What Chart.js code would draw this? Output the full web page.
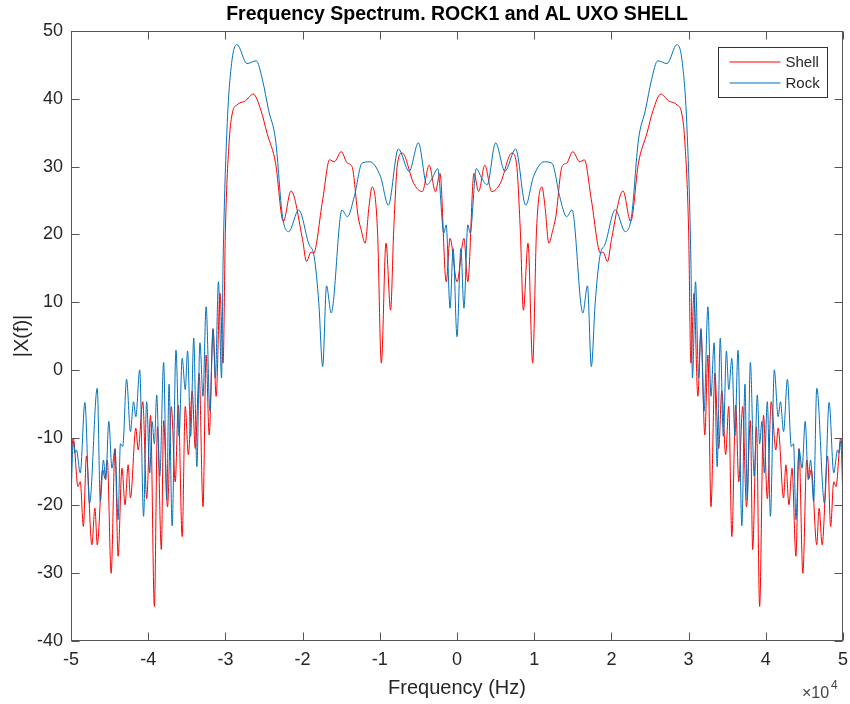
<!DOCTYPE html>
<html>
<head>
<meta charset="utf-8">
<script src="https://cdn.jsdelivr.net/npm/chart.js@4.4.1/dist/chart.umd.min.js"></script>
<style>
  body { margin: 0; background: #fff; }
</style>
</head>
<body>
<canvas id="spectrum" width="850" height="704"></canvas>
<script>
const rockFreq = [0, 0.05, 0.09, 0.14, 0.17, 0.25, 0.32, 0.39, 0.50, 0.62, 0.76, 0.89, 0.99, 1.13, 1.23, 1.33, 1.42, 1.49,
  1.63, 1.69, 1.74, 1.79, 1.85, 1.92, 2.05, 2.18, 2.26, 2.35, 2.44, 2.52, 2.60, 2.72, 2.85, 2.92, 2.98, 3.03,
  3.05, 3.09, 3.13, 3.16, 3.20, 3.25, 3.29, 3.33, 3.37, 3.41, 3.45, 3.49, 3.52, 3.56, 3.60, 3.64, 3.69, 3.73,
  3.76, 3.80, 3.85, 3.89, 3.92, 3.95, 3.98, 4.02, 4.06, 4.11, 4.16, 4.19, 4.23, 4.28, 4.33, 4.36, 4.39, 4.43,
  4.47, 4.51, 4.55, 4.58, 4.62, 4.66, 4.76, 4.82, 4.88, 4.93, 4.95, 4.97, 5.0];
const rockMag = [4.9, 17.9, 9.1, 21.4, 20.2, 29.7, 28.3, 27.3, 33.5, 29.3, 32.6, 24.3, 28.5, 30.7, 30.5, 25.6, 22.6, 23.6,
  8.4, 12.4, 0.5, 9.9, 16.7, 18.6, 23.6, 20.4, 22.6, 33.9, 38.3, 42.8, 45.6, 45.2, 48.0, 45.2, 35.4, 15.8,
  -1.2, 13.0, -1.2, 5.9, -6.1, 9.3, -3.9, 4.0, -14.3, 4.7, -9.8, 2.8, -2.9, 1.7, -9.8, 2.9, -23.0, -2.1,
  -19.2, 1.1, -15.7, -3.7, -10.9, -7.6, -15.2, -4.7, -21.6, 0.0, -6.9, -4.7, -9.1, -1.4, -11.3, -10.9, -22.1, -11.7,
  -14.5, -7.6, -16.2, -13.3, -19.4, -2.7, -19.7, -4.8, -15.2, -11.8, -12.3, -10.5, -19.2];

const shellFreq = [0, 0.09, 0.14, 0.22, 0.28, 0.36, 0.45, 0.56, 0.71, 0.77, 0.82, 0.86, 0.92, 0.98, 1.03, 1.10, 1.14, 1.19,
  1.24, 1.28, 1.36, 1.42, 1.50, 1.59, 1.65, 1.74, 1.86, 1.89, 1.95, 2.0, 2.15, 2.25, 2.35, 2.46, 2.54, 2.64,
  2.74, 2.85, 2.91, 2.95, 3.00, 3.03, 3.07, 3.12, 3.16, 3.21, 3.25, 3.29, 3.34, 3.39, 3.43, 3.48, 3.52, 3.56,
  3.61, 3.65, 3.70, 3.75, 3.80, 3.83, 3.88, 3.92, 3.97, 4.02, 4.07, 4.13, 4.16, 4.23, 4.26, 4.30, 4.34, 4.39,
  4.43, 4.48, 4.53, 4.56, 4.59, 4.66, 4.69, 4.73, 4.80, 4.84, 4.88, 4.91, 4.97, 5.0];
const shellMag = [13.0, 19.4, 13.0, 29.0, 26.3, 30.2, 26.3, 27.5, 32.0, 30.5, 20.6, 8.8, 18.7, 1.0, 20.6, 27.0, 24.1, 18.7,
  20.6, 22.6, 30.0, 30.5, 32.2, 30.7, 31.0, 25.1, 17.2, 17.4, 16.0, 19.2, 26.4, 21.9, 30.5, 34.9, 38.3, 40.7,
  39.7, 39.1, 37.9, 33.9, 20.6, 1.0, 11.3, -3.9, 6.1, -9.6, 2.2, -20.2, -0.5, -11.6, -3.1, -12.5, -5.4, -24.6,
  -5.2, -16.5, -5.4, -20.2, -7.5, -26.5, -8.4, -34.9, -6.7, -19.0, -4.7, -11.8, -8.6, -18.9, -14.0, -19.9, -14.5, -27.5,
  -11.6, -30.0, -13.3, -16.0, -14.7, -25.8, -20.4, -25.8, -12.7, -23.1, -16.5, -17.2, -10.1, -12.5];

const xTicks = [-5, -4, -3, -2, -1, 0, 1, 2, 3, 4, 5];
const yTicks = [-40, -30, -20, -10, 0, 10, 20, 30, 40, 50];
const chartTitle = 'Frequency Spectrum. ROCK1 and AL UXO SHELL';

const axisColor = '#262626';
const fontFam = '"Liberation Sans", Arial, Helvetica, sans-serif';

// build the full two-sided spectrum from the half that was read
function twoSided(fs, ms) {
  const pts = [];
  for (let i = fs.length - 1; i > 0; i--) pts.push({x: -fs[i], y: ms[i]});
  for (let i = 0; i < fs.length; i++) pts.push({x: fs[i], y: ms[i]});
  return pts;
}

// matlab style box, inward ticks, title over the axes, legend and the x10^4 exponent
const matlabAxes = {
  id: 'matlabAxes',
  afterDraw(chart) {
    const ctx = chart.ctx;
    const a = chart.chartArea;
    const xs = chart.scales.x, ys = chart.scales.y;
    ctx.save();
    ctx.strokeStyle = '#555';
    ctx.lineWidth = 1;
    const L = Math.round(a.left) + 0.5, R = Math.round(a.right) - 0.5;
    const T = Math.round(a.top) + 0.5, B = Math.round(a.bottom) - 0.5;
    ctx.strokeRect(L, T, R - L, B - T);
    ctx.beginPath();
    xTicks.forEach(v => {
      const px = Math.round(xs.getPixelForValue(v)) + 0.5;
      ctx.moveTo(px, B); ctx.lineTo(px, B - 8);
      ctx.moveTo(px, T); ctx.lineTo(px, T + 8);
    });
    yTicks.forEach(v => {
      const py = Math.round(ys.getPixelForValue(v)) + 0.5;
      ctx.moveTo(L, py); ctx.lineTo(L + 8, py);
      ctx.moveTo(R, py); ctx.lineTo(R - 8, py);
    });
    ctx.stroke();

    // title, centred on the axes like matlab does
    ctx.fillStyle = '#000';
    ctx.font = 'bold 19.5px ' + fontFam;
    ctx.textAlign = 'center';
    ctx.textBaseline = 'middle';
    ctx.fillText(chartTitle, (a.left + a.right) / 2, 15);

    // legend
    const lx = 718.5, ly = 47.5, lw = 109, lh = 50;
    ctx.fillStyle = '#fff';
    ctx.fillRect(lx, ly, lw, lh);
    ctx.strokeStyle = '#333';
    ctx.strokeRect(lx, ly, lw, lh);
    ctx.font = '15px ' + fontFam;
    ctx.textBaseline = 'middle';
    ctx.textAlign = 'left';
    chart.data.datasets.forEach((ds, i) => {
      const y = ly + 14.5 + i * 21;
      ctx.strokeStyle = ds.borderColor;
      ctx.beginPath();
      ctx.moveTo(lx + 11, y); ctx.lineTo(lx + 62, y);
      ctx.stroke();
      ctx.fillStyle = axisColor;
      ctx.fillText(ds.label, lx + 67, y + 1);
    });

    // exponent label
    ctx.fillStyle = '#444';
    ctx.font = '16px ' + fontFam;
    ctx.textAlign = 'left';
    ctx.textBaseline = 'alphabetic';
    ctx.fillText('\u00d710', 802, 698);
    ctx.font = '12px ' + fontFam;
    ctx.fillText('4', 831, 689);
    ctx.restore();
  }
};

const ctx = document.getElementById('spectrum').getContext('2d');
new Chart(ctx, {
  type: 'line',
  data: {
    datasets: [{
      label: 'Shell',
      data: twoSided(shellFreq, shellMag),
      borderColor: '#ff0000',
      borderWidth: 1,
      pointRadius: 0,
      cubicInterpolationMode: 'monotone',
      order: 1
    }, {
      label: 'Rock',
      data: twoSided(rockFreq, rockMag),
      borderColor: '#0072bd',
      borderWidth: 1,
      pointRadius: 0,
      cubicInterpolationMode: 'monotone',
      order: 0
    }]
  },
  options: {
    responsive: false,
    animation: false,
    layout: { padding: { left: 0, right: 7, top: 31, bottom: 0 } },
    plugins: {
      legend: { display: false },
      tooltip: { enabled: false },
      title: { display: false }
    },
    scales: {
      x: {
        type: 'linear',
        min: -5, max: 5,
        afterBuildTicks: s => { s.ticks = xTicks.map(v => ({value: v})); },
        afterFit: s => { s.height = 63; s.paddingLeft = 0; s.paddingRight = 0; },
        grid: { display: false, drawTicks: false },
        border: { display: false },
        ticks: { color: axisColor, padding: 8, maxRotation: 0, font: { family: fontFam, size: 18 } },
        title: { display: true, text: 'Frequency (Hz)', color: axisColor, font: { family: fontFam, size: 20 }, padding: { top: 0, bottom: 4 } }
      },
      y: {
        min: -40, max: 50,
        afterBuildTicks: s => { s.ticks = yTicks.map(v => ({value: v})); },
        afterFit: s => { s.width = 71; s.paddingTop = 0; s.paddingBottom = 0; },
        grid: { display: false, drawTicks: false },
        border: { display: false },
        ticks: { color: axisColor, padding: 8, font: { family: fontFam, size: 18 } },
        title: { display: true, text: '|X(f)|', color: axisColor, font: { family: fontFam, size: 20 }, padding: { top: 10, bottom: 0 } }
      }
    }
  },
  plugins: [matlabAxes]
});
</script>
</body>
</html>
